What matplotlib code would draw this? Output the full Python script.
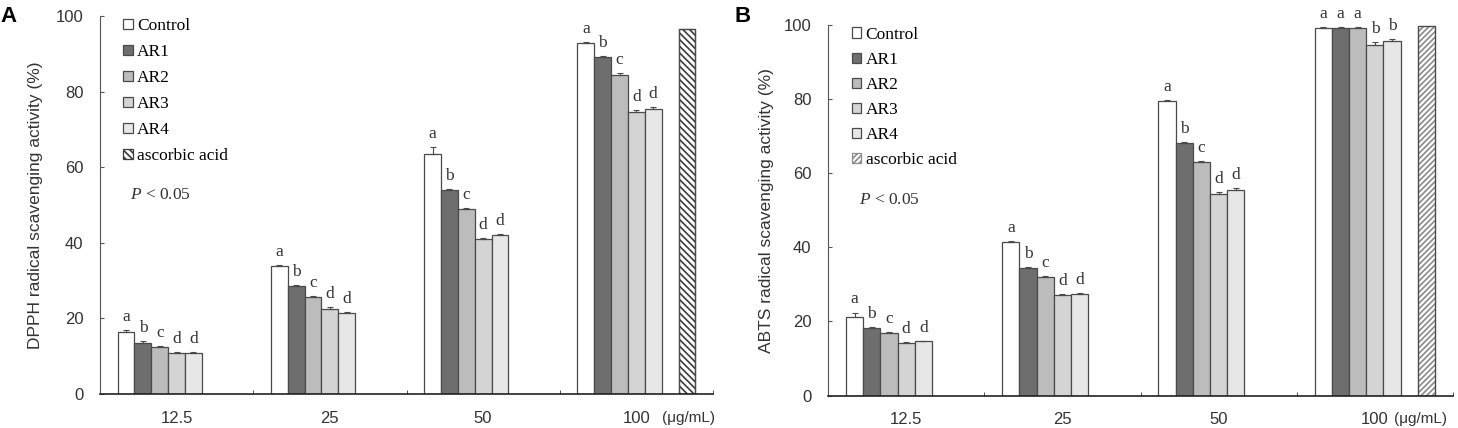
import numpy as np
import matplotlib.pyplot as plt
from matplotlib.transforms import blended_transform_factory

plt.rcParams['font.family'] = ['Liberation Sans', 'DejaVu Sans']
plt.rcParams['mathtext.fontset'] = 'custom'
plt.rcParams['mathtext.rm'] = 'Liberation Serif'
plt.rcParams['mathtext.it'] = 'Liberation Serif:italic'
plt.rcParams['hatch.linewidth'] = 1.2

# data
concentrations = ['12.5', '25', '50', '100']
samples = ['Control', 'AR1', 'AR2', 'AR3', 'AR4']

dpph_values = [
    [16.5, 33.9, 63.4, 92.8],   # Control
    [13.6, 28.6, 54.0, 89.1],   # AR1
    [12.5, 25.7, 48.9, 84.4],   # AR2
    [10.8, 22.4, 41.0, 74.7],   # AR3
    [10.8, 21.5, 42.1, 75.4],   # AR4
]
dpph_err = [
    [0.4, 0.3, 2.0, 0.3],
    [0.3, 0.3, 0.3, 0.4],
    [0.3, 0.3, 0.3, 0.4],
    [0.3, 0.6, 0.3, 0.4],
    [0.2, 0.3, 0.3, 0.4],
]
dpph_ascorbic = 96.6
dpph_letters = [
    ['a', 'b', 'c', 'd', 'd'],
    ['a', 'b', 'c', 'd', 'd'],
    ['a', 'b', 'c', 'd', 'd'],
    ['a', 'b', 'c', 'd', 'd'],
]

abts_values = [
    [21.2, 41.4, 79.4, 99.2],
    [18.3, 34.5, 68.1, 99.2],
    [16.8, 31.9, 63.0, 99.2],
    [14.2, 27.1, 54.5, 94.7],
    [14.6, 27.4, 55.6, 95.8],
]
abts_err = [
    [1.2, 0.3, 0.3, 0.3],
    [0.2, 0.3, 0.3, 0.3],
    [0.3, 0.3, 0.3, 0.3],
    [0.2, 0.3, 0.3, 0.8],
    [0.2, 0.3, 0.3, 0.4],
]
abts_ascorbic = 99.6
abts_letters = [
    ['a', 'b', 'c', 'd', 'd'],
    ['a', 'b', 'c', 'd', 'd'],
    ['a', 'b', 'c', 'd', 'd'],
    ['a', 'a', 'a', 'b', 'b'],
]

colors = ['white', '#6e6e6e', '#bcbcbc', '#d4d4d4', '#e7e7e7']
edge = '#4a4a4a'
serif = ['Liberation Serif', 'DejaVu Serif']


def draw_panel(ax, values, errs, letters, ascorbic, ylabel, hatch, hatch_color,
               unit_dx, leg_y, leg_space):
    x = np.arange(len(concentrations))
    slot = 0.11
    start = -3.5 * slot
    for i, name in enumerate(samples):
        pos = x + start + slot * (i + 0.5)
        ax.bar(pos, values[i], slot, color=colors[i], edgecolor=edge,
               linewidth=0.9, label=name, zorder=2)
        ax.errorbar(pos, values[i], yerr=[np.zeros(len(x)), errs[i]], fmt='none',
                    ecolor=edge, elinewidth=0.8, capsize=2.5, capthick=0.8, zorder=3)
        for j in range(len(x)):
            ax.annotate(letters[j][i], (pos[j], values[i][j] + errs[i][j]),
                        xytext=(0, 6.5), textcoords='offset points', ha='center',
                        va='baseline', fontsize=12.5, family=serif, color='#333333')
    # ascorbic acid only at the highest concentration
    ax.bar([x[-1] + start + slot * 6.5], [ascorbic], slot, color='white',
           edgecolor=hatch_color, hatch=hatch, linewidth=0.9, zorder=2,
           label='ascorbic acid')
    ax.bar([x[-1] + start + slot * 6.5], [ascorbic], slot, color='none',
           edgecolor=edge, linewidth=0.9, zorder=2)

    ax.set_xlim(-0.5, len(x) - 0.5)
    ax.set_ylim(0, 100)
    ax.set_yticks(range(0, 101, 20))
    ax.set_xticks(x)
    ax.set_xticklabels(concentrations)
    ax.set_xticks(np.arange(-0.5, len(x), 1.0), minor=True)
    ax.tick_params(axis='x', which='major', length=0, pad=12, labelsize=12, labelcolor='#333333')
    ax.tick_params(axis='x', which='minor', direction='in', length=3, color='#333333')
    ax.tick_params(axis='y', direction='in', length=3, pad=12, labelsize=12,
                   color='#555555', labelcolor='#333333')
    for s in ['top', 'right']:
        ax.spines[s].set_visible(False)
    ax.spines['left'].set_color('#555555')
    ax.spines['bottom'].set_color('#222222')
    ax.spines['bottom'].set_linewidth(1.2)
    ax.set_ylabel(ylabel, fontsize=12.5, color='#333333')

    trans = blended_transform_factory(ax.transData, ax.transAxes)
    ax.text(len(x) - 1 + unit_dx, -0.063, '(μg/mL)', transform=trans, fontsize=11,
            color='#333333', ha='left', va='center')

    ax.legend(loc='upper left', bbox_to_anchor=(0.038, leg_y), frameon=False,
              prop={'family': serif, 'size': 12.5}, handlelength=0.55, handleheight=0.55,
              handletextpad=0.25, labelspacing=leg_space, borderaxespad=0, borderpad=0)
    ax.text(0.049, 0.527, r'$\it{P}$ < 0.05', transform=ax.transAxes, fontsize=12.5,
            family=serif, va='center', ha='left', color='#333333')


fig = plt.figure(figsize=(14.58, 4.28), dpi=100)
ax1 = fig.add_axes([100 / 1458, 34 / 428, 613 / 1458, 378 / 428])
ax2 = fig.add_axes([828 / 1458, 32.5 / 428, 625 / 1458, 370.5 / 428])

draw_panel(ax1, dpph_values, dpph_err, dpph_letters, dpph_ascorbic,
           'DPPH radical scavenging activity (%)', '\\\\\\\\\\', '#3c3c3c', 0.165,
           0.995, 0.58)
draw_panel(ax2, abts_values, abts_err, abts_letters, abts_ascorbic,
           'ABTS radical scavenging activity (%)', '//////', '#8a8a8a', 0.12,
           0.995, 0.52)
ax1.yaxis.set_label_coords(-0.093, 0.5)
ax2.yaxis.set_label_coords(-0.086, 0.5)

fig.text(0.0, 1 - 16 / 428, 'A', fontsize=16, fontweight='bold', ha='left', va='center')
fig.text(735 / 1458, 1 - 16 / 428, 'B', fontsize=16, fontweight='bold', ha='left', va='center')

fig.savefig('out.png', dpi=100)
